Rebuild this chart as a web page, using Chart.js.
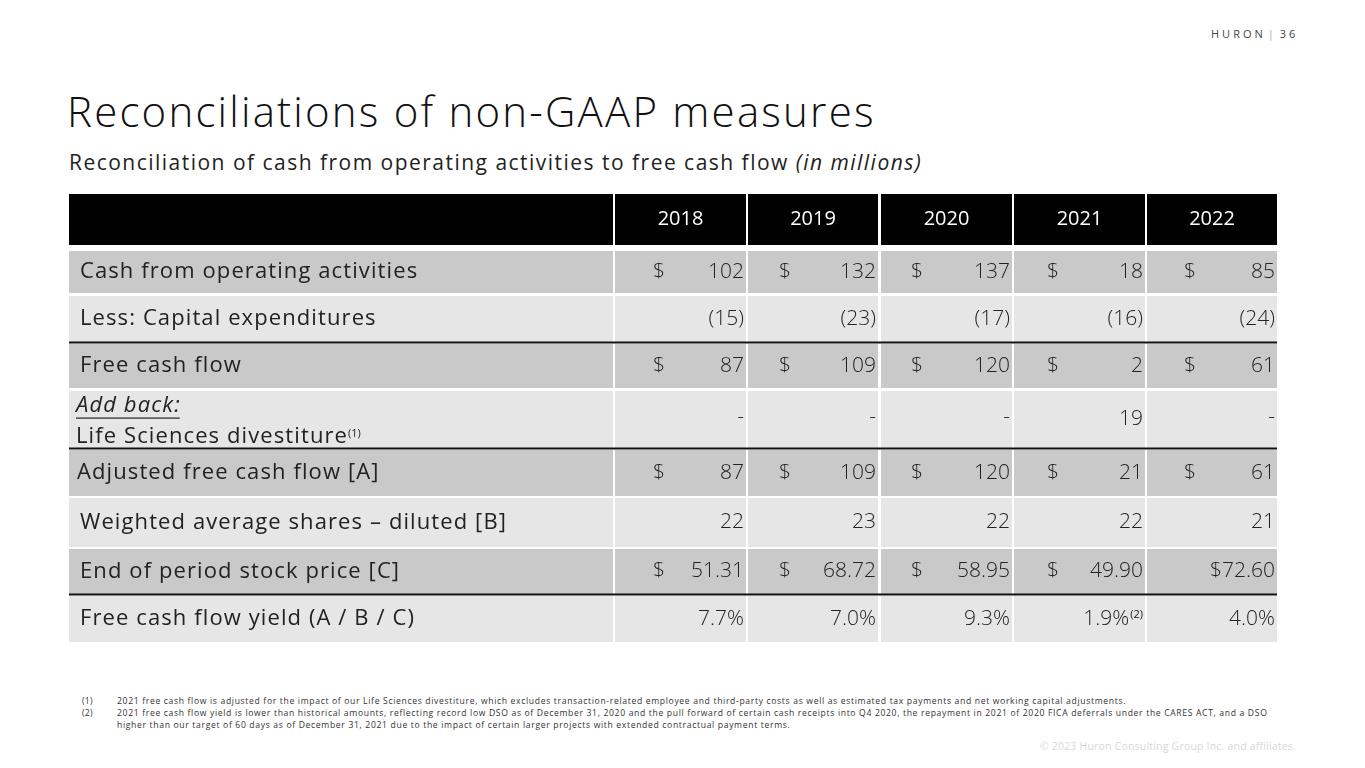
<!DOCTYPE html>
<html>
<head>
<meta charset="utf-8">
<script src="https://cdn.jsdelivr.net/npm/chart.js@4.4.1/dist/chart.umd.min.js"></script>
<style>
  html, body { margin: 0; padding: 0; background: #fff; }
  body { width: 1365px; height: 768px; position: relative; overflow: hidden; font-family: 'Open Sans', sans-serif; color: #1c1c1c; }
  .brand { position: absolute; top: 26px; left: 1211px; font-size: 11px; letter-spacing: 3px; color: #444; white-space: nowrap; }
  .brand .bar { color: #aaa; margin: 0 3px 0 2px; }
  h1 { position: absolute; left: 67px; top: 86px; margin: 0; font-size: 42px; line-height: 50px; font-weight: 300; letter-spacing: 2.2px; color: #111; white-space: nowrap; }
  h2 { position: absolute; left: 69px; top: 149px; margin: 0; font-size: 21px; line-height: 26px; font-weight: 400; letter-spacing: 1.48px; color: #222; white-space: nowrap; }
  #table { position: absolute; left: 69px; top: 194px; }
  .notes { position: absolute; left: 82px; top: 695px; width: 1250px; font-size: 8.6px; line-height: 12px; letter-spacing: 0.66px; color: #333; white-space: nowrap; }
  .notes div { position: relative; padding-left: 35px; }
  .notes span { position: absolute; left: 0; letter-spacing: 0.3px; }
  .copy { position: absolute; right: 69px; top: 739px; font-size: 10.5px; letter-spacing: 0.2px; color: #d8d8d8; white-space: nowrap; }
</style>
</head>
<body>
<div class="brand">HURON<span class="bar">|</span>36</div>
<h1>Reconciliations of non-GAAP measures</h1>
<h2>Reconciliation of cash from operating activities to free cash flow <i>(in millions)</i></h2>
<canvas id="table" width="1208" height="448"></canvas>
<div class="notes">
  <div><span>(1)</span>2021 free cash flow is adjusted for the impact of our Life Sciences divestiture, which excludes transaction-related employee and third-party costs as well as estimated tax payments and net working capital adjustments.</div>
  <div><span>(2)</span>2021 free cash flow yield is lower than historical amounts, reflecting record low DSO as of December 31, 2020 and the pull forward of certain cash receipts into Q4 2020, the repayment in 2021 of 2020 FICA deferrals under the CARES ACT, and a DSO<br>higher than our target of 60 days as of December 31, 2021 due to the impact of certain larger projects with extended contractual payment terms.</div>
</div>
<div class="copy">© 2023 Huron Consulting Group Inc. and affiliates.</div>
<script>
// table data (in millions, except shares price / yield)
const years = ['2018', '2019', '2020', '2021', '2022'];
const cashFromOps = [102, 132, 137, 18, 85];
const capex = [-15, -23, -17, -16, -24];
const freeCashFlow = [87, 109, 120, 2, 61];
const lifeSciencesAddBack = [null, null, null, 19, null];
const adjustedFcf = [87, 109, 120, 21, 61];
const dilutedShares = [22, 23, 22, 22, 21];
const stockPrice = [51.31, 68.72, 58.95, 49.90, 72.60];
const fcfYield = [7.7, 7.0, 9.3, 1.9, 4.0];

// layout (canvas units, 1 unit = 1px)
const COLS = [[0, 544], [546, 677], [679, 809], [812, 943], [945, 1076], [1078, 1208]];
const DOLLAR_X = [38, 31, 30, 33, 37];
const HEADER = [0, 51];
const DARK = '#c9c9c9', LIGHT = '#e6e6e6', INK = '#222';
const FONT = "'Open Sans', sans-serif";

const rows = [
  { label: 'Cash from operating activities', values: cashFromOps, fmt: 'usd', span: [57, 99], bg: DARK, lx: 11 },
  { label: 'Less: Capital expenditures', values: capex, fmt: 'num', span: [102, 148], bg: LIGHT, lx: 11, rule: true },
  { label: 'Free cash flow', values: freeCashFlow, fmt: 'usd', span: [150, 194], bg: DARK, lx: 11 },
  { label: 'Life Sciences divestiture', pre: 'Add back:', sup: '(1)', values: lifeSciencesAddBack, fmt: 'num', span: [197, 254], bg: LIGHT, lx: 7, rule: true },
  { label: 'Adjusted free cash flow [A]', values: adjustedFcf, fmt: 'usd', span: [256, 302], bg: DARK, lx: 8 },
  { label: 'Weighted average shares \u2013 diluted [B]', values: dilutedShares, fmt: 'num', span: [304, 353], bg: LIGHT, lx: 11 },
  { label: 'End of period stock price [C]', values: stockPrice, fmt: 'price', span: [355, 400], bg: DARK, lx: 11, rule: true },
  { label: 'Free cash flow yield (A / B / C)', values: fcfYield, fmt: 'pct', span: [402, 448], bg: LIGHT, lx: 11, sups: { 3: '(2)' } }
];

function fmtValue(v, fmt) {
  if (v === null) return '-';
  if (fmt === 'price') return v.toFixed(2);
  if (fmt === 'pct') return v.toFixed(1) + '%';
  return v < 0 ? '(' + Math.abs(v) + ')' : String(v);
}

const cellTable = {
  id: 'cellTable',
  beforeDatasetsDraw(chart) {
    const { ctx, scales: { x, y } } = chart;
    const px = v => x.getPixelForValue(v);
    const py = v => y.getPixelForValue(v);
    ctx.save();
    ctx.textBaseline = 'middle';

    // header band
    ctx.fillStyle = '#000';
    ctx.fillRect(px(0), py(HEADER[0]), px(1208) - px(0), py(HEADER[1]) - py(HEADER[0]));
    ctx.font = '400 20px ' + FONT;
    ctx.textAlign = 'center';
    years.forEach((yr, i) => {
      const [a, b] = COLS[i + 1];
      ctx.fillStyle = '#fff';
      ctx.fillRect(px(COLS[i][1]), py(HEADER[0]), px(a) - px(COLS[i][1]), py(HEADER[1]) - py(HEADER[0]));
      ctx.fillText(yr, (px(a) + px(b)) / 2, (py(HEADER[0]) + py(HEADER[1])) / 2);
    });

    rows.forEach(r => {
      const top = py(r.span[0]), bot = py(r.span[1]), mid = (top + bot) / 2;
      COLS.forEach(([a, b]) => {
        ctx.fillStyle = r.bg;
        ctx.fillRect(px(a), top, px(b) - px(a), bot - top);
      });
      if (r.rule) {
        ctx.fillStyle = '#111';
        ctx.fillRect(px(0), bot - 0.5, px(1208) - px(0), 2);
      }

      // row label
      ctx.fillStyle = INK;
      ctx.textAlign = 'left';
      ctx.letterSpacing = '1.1px';
      ctx.font = '400 22px ' + FONT;
      const lx = px(r.lx);
      if (r.pre) {
        ctx.font = 'italic 400 22px ' + FONT;
        ctx.fillText(r.pre, lx, mid - 14);
        const w = ctx.measureText(r.pre).width;
        ctx.fillRect(lx, mid - 14 + 12, w - 1, 1.2);
        ctx.font = '400 22px ' + FONT;
        ctx.fillText(r.label, lx, mid + 17);
        const lw = ctx.measureText(r.label).width;
        ctx.letterSpacing = '0px';
        ctx.font = '400 11px ' + FONT;
        ctx.fillText(r.sup, lx + lw, mid + 14);
      } else {
        ctx.fillText(r.label, lx, mid);
      }
      ctx.letterSpacing = '0px';

      // values
      r.values.forEach((v, i) => {
        const [a, b] = COLS[i + 1];
        let txt = fmtValue(v, r.fmt);
        const joined = r.fmt === 'price' && i === years.length - 1;
        if (joined) txt = '$' + txt;
        let right = px(b) - 2;
        ctx.textAlign = 'right';
        ctx.fillStyle = INK;
        const sup = r.sups && r.sups[i];
        if (sup) {
          ctx.font = '400 11px ' + FONT;
          ctx.fillText(sup, right, mid - 4);
          right -= ctx.measureText(sup).width + 1;
        }
        ctx.font = '300 21px ' + FONT;
        ctx.fillText(txt, right, v === null ? mid - 2 : mid);
        if ((r.fmt === 'usd' || r.fmt === 'price') && !joined) {
          ctx.textAlign = 'left';
          ctx.fillText('$', px(a + DOLLAR_X[i]), mid);
        }
      });
    });
    ctx.restore();
  }
};

new Chart(document.getElementById('table'), {
  type: 'scatter',
  data: { datasets: [] },
  options: {
    responsive: false,
    animation: false,
    events: [],
    layout: { padding: 0 },
    plugins: { legend: { display: false }, tooltip: { enabled: false } },
    scales: {
      x: { type: 'linear', min: 0, max: 1208, display: false },
      y: { type: 'linear', min: 0, max: 448, reverse: true, display: false }
    }
  },
  plugins: [cellTable]
});
</script>
</body>
</html>
